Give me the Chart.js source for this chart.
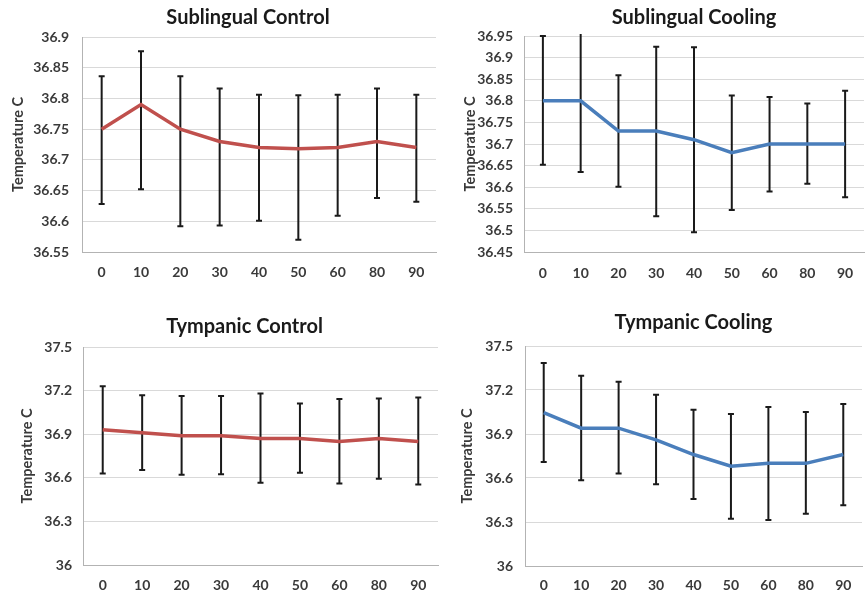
<!DOCTYPE html>
<html>
<head>
<meta charset="utf-8">
<script src="https://cdn.jsdelivr.net/npm/chart.js@4"></script>
<style>
  html, body { margin: 0; padding: 0; background: #fff; }
  body { width: 867px; height: 593px; position: relative; overflow: hidden; }
  canvas { position: absolute; }
</style>
</head>
<body>
<canvas id="slControl"></canvas>
<canvas id="slCooling"></canvas>
<canvas id="tyControl"></canvas>
<canvas id="tyCooling"></canvas>
<script>
// minutes
const times = ['0', '10', '20', '30', '40', '50', '60', '80', '90'];

// Sublingual control: mean and error bar ends
const slControlMean = [36.75, 36.79, 36.75, 36.73, 36.72, 36.718, 36.72, 36.73, 36.72];
const slControlHi = [36.836, 36.877, 36.836, 36.816, 36.806, 36.805, 36.806, 36.816, 36.806];
const slControlLo = [36.628, 36.652, 36.592, 36.593, 36.601, 36.570, 36.609, 36.638, 36.632];

// Sublingual cooling
const slCoolingMean = [36.80, 36.80, 36.73, 36.73, 36.71, 36.68, 36.70, 36.70, 36.70];
const slCoolingHi = [36.95, 36.97, 36.859, 36.925, 36.924, 36.812, 36.809, 36.794, 36.823];
const slCoolingLo = [36.652, 36.635, 36.601, 36.533, 36.496, 36.547, 36.590, 36.608, 36.577];

// Tympanic control
const tyControlMean = [36.93, 36.91, 36.89, 36.89, 36.87, 36.87, 36.85, 36.87, 36.85];
const tyControlHi = [37.23, 37.168, 37.163, 37.163, 37.18, 37.111, 37.143, 37.146, 37.152];
const tyControlLo = [36.63, 36.653, 36.621, 36.625, 36.566, 36.635, 36.561, 36.593, 36.554];

// Tympanic cooling
const tyCoolingMean = [37.045, 36.94, 36.94, 36.86, 36.76, 36.68, 36.70, 36.70, 36.76];
const tyCoolingHi = [37.384, 37.298, 37.257, 37.168, 37.066, 37.036, 37.084, 37.05, 37.105];
const tyCoolingLo = [36.709, 36.584, 36.630, 36.557, 36.457, 36.323, 36.314, 36.357, 36.414];

// y tick labels
const slControlTicks = [36.55, 36.6, 36.65, 36.7, 36.75, 36.8, 36.85, 36.9];
const slCoolingTicks = [36.45, 36.5, 36.55, 36.6, 36.65, 36.7, 36.75, 36.8, 36.85, 36.9, 36.95];
const tyTicks = [36, 36.3, 36.6, 36.9, 37.2, 37.5];

const RED = '#c0504d';
const BLUE = '#4a7ebb';
const textCol = '#3a3a3a';
const gridCol = '#d9d9d9';
const axisCol = '#b3b3b3';
const FONT = 'Lato';

// draws the black error bars under the line
const errorBars = {
  id: 'errorBars',
  beforeDatasetsDraw(chart) {
    const ds = chart.data.datasets[0];
    const meta = chart.getDatasetMeta(0);
    const yScale = chart.scales.y;
    const a = chart.chartArea;
    const ctx = chart.ctx;
    ctx.save();
    ctx.beginPath();
    ctx.rect(a.left, a.top - 2, a.right - a.left, a.bottom - a.top + 4);
    ctx.clip();
    ctx.strokeStyle = '#1a1a1a';
    ctx.lineWidth = 2;
    meta.data.forEach((pt, i) => {
      const x = pt.x;
      const yHi = yScale.getPixelForValue(ds.errHi[i]);
      const yLo = yScale.getPixelForValue(ds.errLo[i]);
      ctx.beginPath();
      ctx.moveTo(x, yHi); ctx.lineTo(x, yLo);
      ctx.moveTo(x - 3, yHi); ctx.lineTo(x + 3, yHi);
      ctx.moveTo(x - 3, yLo); ctx.lineTo(x + 3, yLo);
      ctx.stroke();
    });
    ctx.restore();
  }
};

function makeChart(id, p) {
  const cv = document.getElementById(id);
  cv.width = p.w;
  cv.height = p.h;
  cv.style.left = p.x + 'px';
  cv.style.top = p.y + 'px';

  const tickFont = { family: FONT, size: 14, weight: 'bold' };
  const scales = {
    x: {
      type: 'category',
      offset: true,
      grid: { display: false },
      border: { color: axisCol, width: 1 },
      ticks: { color: textCol, font: tickFont, padding: p.xPad, maxRotation: 0, autoSkip: false },
      afterFit: s => { s.height = p.xH; }
    },
    y: {
      min: p.ticks[0],
      max: p.ticks[p.ticks.length - 1],
      afterBuildTicks: s => { s.ticks = p.ticks.map(v => ({ value: v })); },
      grid: { color: gridCol, drawTicks: false },
      border: { color: axisCol },
      ticks: { color: textCol, font: tickFont, padding: p.yPad, callback: v => String(v) },
      title: {
        display: true, text: 'Temperature C', color: textCol,
        font: { family: FONT, size: 14.5, weight: 'bold' },
        padding: { top: p.yTitlePad, bottom: 0 }
      },
      afterFit: s => { s.width = p.yW; }
    }
  };
  if (p.gap) {
    // empty right-hand space so the title centres like the original
    scales.gap = {
      type: 'linear', position: 'right', display: true,
      grid: { display: false }, border: { display: false }, ticks: { display: false },
      afterFit: s => { s.width = p.gap; }
    };
  }

  return new Chart(cv, {
    type: 'line',
    data: {
      labels: times,
      datasets: [{
        data: p.mean,
        errHi: p.hi,
        errLo: p.lo,
        borderColor: p.color,
        borderWidth: 3.5,
        pointRadius: 0,
        tension: 0,
        fill: false
      }]
    },
    options: {
      responsive: false,
      animation: false,
      layout: { padding: { left: 0, right: p.padR || 0, top: 0, bottom: 0 } },
      plugins: {
        legend: { display: false },
        tooltip: { enabled: false },
        title: {
          display: true,
          text: p.title,
          fullSize: p.titleFull,
          color: '#1a1a1a',
          font: { family: FONT, size: 20, weight: 'bold' },
          padding: p.titlePad
        }
      },
      scales: scales
    },
    plugins: [errorBars]
  });
}

makeChart('slControl', {
  title: 'Sublingual Control', mean: slControlMean, hi: slControlHi, lo: slControlLo, ticks: slControlTicks, color: RED,
  x: 0, y: 0, w: 496, h: 290, yW: 82, gap: 60, xH: 38, xPad: 4, yPad: 13, yTitlePad: 10,
  titlePad: { top: 5.8, bottom: 7.2 }, titleFull: true
});
makeChart('slCooling', {
  title: 'Sublingual Cooling', mean: slCoolingMean, hi: slCoolingHi, lo: slCoolingLo, ticks: slCoolingTicks, color: BLUE,
  x: 456, y: 0, w: 411, h: 290, yW: 68, padR: 3, xH: 38, xPad: 5, yPad: 11, yTitlePad: 6,
  titlePad: { top: 5.8, bottom: 6.2 }, titleFull: false
});
makeChart('tyControl', {
  title: 'Tympanic Control', mean: tyControlMean, hi: tyControlHi, lo: tyControlLo, ticks: tyTicks, color: RED,
  x: 0, y: 300, w: 489, h: 293, yW: 83, gap: 51, xH: 28, xPad: 4, yPad: 11, yTitlePad: 19,
  titlePad: { top: 15, bottom: 8 }, titleFull: true
});
makeChart('tyCooling', {
  title: 'Tympanic Cooling', mean: tyCoolingMean, hi: tyCoolingHi, lo: tyCoolingLo, ticks: tyTicks, color: BLUE,
  x: 450, y: 300, w: 417, h: 293, yW: 75, padR: 5, xH: 27, xPad: 3, yPad: 12, yTitlePad: 9,
  titlePad: { top: 11, bottom: 11 }, titleFull: false
});
</script>
</body>
</html>
